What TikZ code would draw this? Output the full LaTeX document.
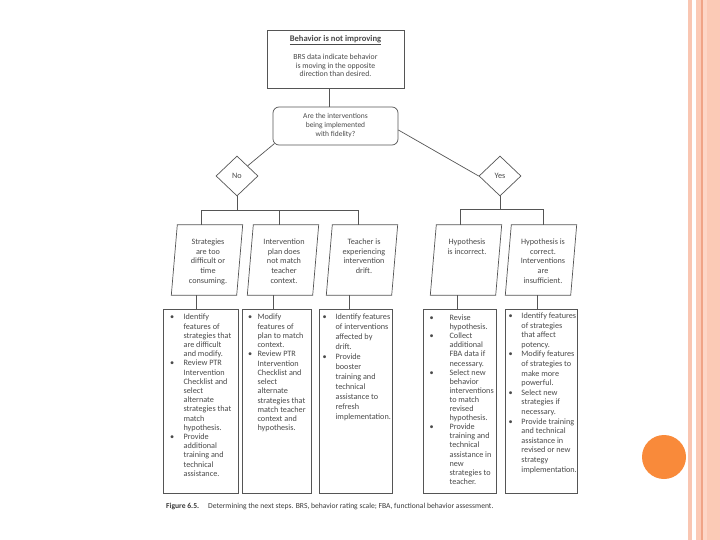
\documentclass[tikz,border=0pt]{standalone}
\usepackage{fontspec}
\setmainfont{Carlito}
\usetikzlibrary{shapes.geometric}
\definecolor{ink}{HTML}{555555}
\definecolor{txt}{HTML}{4A4A4A}
\definecolor{capc}{HTML}{3A3A3A}
\definecolor{stripeA}{HTML}{F9C6B2}
\definecolor{stripeB}{HTML}{FBCAB6}
\definecolor{stripeC}{HTML}{F0A486}
\definecolor{stripeD}{HTML}{FDD6C6}
\definecolor{dotc}{HTML}{F98A3A}
\newcommand\pgram[1]{\draw[ink,line width=0.7pt] ([xshift=3pt]#1.north west) -- ([xshift=3pt]#1.north east) -- ([xshift=-3pt]#1.south east) -- ([xshift=-3pt]#1.south west) -- cycle;}
\begin{document}
\begin{tikzpicture}[x=1pt,y=-1pt,
  plainbox/.style={draw=ink,line width=0.7pt,inner sep=0pt,text=txt},
  pgbox/.style={inner sep=0pt,minimum width=65pt,minimum height=70pt},
  rbox/.style={draw=ink,line width=0.7pt,inner sep=0pt,minimum height=184pt},
  ptext/.style={anchor=north,inner sep=0pt,text=txt,font=\fontsize{8.2}{9.6}\selectfont},
  btext/.style={anchor=north west,inner sep=0pt,text=txt},
  conn/.style={draw=ink,line width=0.7pt}
]
\useasboundingbox (0,0) rectangle (720,540);
\fill[white] (0,0) rectangle (720,540);
% right decoration
\fill[stripeA] (688,0) rectangle (692,540);
\fill[stripeB] (696,0) rectangle (720,540);
\fill[stripeC] (701,0) rectangle (702.8,540);
\fill[stripeD] (702.8,0) rectangle (707,540);
\fill[dotc] (664,457) circle[radius=22pt];

% top box
\node[draw=ink,line width=0.7pt,minimum width=137pt,minimum height=58pt] (top) at (335.5,59) {};
\node[anchor=north,inner sep=0pt,text=txt,font=\fontsize{7.8}{8.5}\selectfont] (toptext) at (335.5,35.6)
 {\begin{tabular}{@{}c@{}}{\fontsize{8.6}{8.5}\selectfont\underline{\textbf{Behavior is not improving}}}\\[9.4pt]
 BRS data indicate behavior\\
 is moving in the opposite\\
 direction than desired.\end{tabular}};

% decision
\node[plainbox,rounded corners=6pt,minimum width=125pt,minimum height=38pt,font=\fontsize{7.5}{9}\selectfont] (dec) at (335.5,126)
 {\begin{tabular}{@{}c@{}}Are the interventions\\ being implemented\\ with fidelity?\end{tabular}};

\node[plainbox,shape=diamond,minimum width=42pt,minimum height=40pt,font=\fontsize{8.2}{9}\selectfont] (no) at (237,176) {No};
\node[plainbox,shape=diamond,minimum width=42pt,minimum height=40pt,font=\fontsize{8.2}{9}\selectfont] (yes) at (500,176) {Yes};

% parallelograms
\node[pgbox] (p1) at (207,260) {};
\node[pgbox] (p2) at (283,260) {};
\node[pgbox] (p3) at (362,260) {};
\node[pgbox] (p4) at (466,260) {};
\node[pgbox] (p5) at (541,260) {};
\pgram{p1}\pgram{p2}\pgram{p3}\pgram{p4}\pgram{p5}
\node[ptext] (p1t) at (208,237.8) {\begin{tabular}{@{}c@{}}Strategies\\ are too\\ difficult or\\ time\\ consuming.\end{tabular}};
\node[ptext] (p2t) at (284,237.8) {\begin{tabular}{@{}c@{}}Intervention\\ plan does\\ not match\\ teacher\\ context.\end{tabular}};
\node[ptext] (p3t) at (364,237.8) {\begin{tabular}{@{}c@{}}Teacher is\\ experiencing\\ intervention\\ drift.\end{tabular}};
\node[ptext] (p4t) at (467,237.8) {\begin{tabular}{@{}c@{}}Hypothesis\\ is incorrect.\end{tabular}};
\node[ptext] (p5t) at (543,237.8) {\begin{tabular}{@{}c@{}}Hypothesis is\\ correct.\\ Interventions\\ are\\ insufficient.\end{tabular}};

% rectangles
\node[rbox,minimum width=75pt] (r1) at (200.5,401) {};
\node[rbox,minimum width=69pt] (r2) at (276.5,401) {};
\node[rbox,minimum width=73pt] (r3) at (355.5,401) {};
\node[rbox,minimum width=73pt] (r4) at (459.5,401) {};
\node[rbox,minimum width=72pt] (r5) at (541,401) {};

\node[btext,font=\fontsize{8.2}{9.2}\selectfont] (r1t) at (170,313.2)
 {\begin{tabular}{@{}l@{\hspace{9.3pt}}l@{}}
 \textbullet & Identify\\ & features of\\ & strategies that\\ & are difficult\\ & and modify.\\
 \textbullet & Review PTR\\ & Intervention\\ & Checklist and\\ & select\\ & alternate\\ & strategies that\\ & match\\ & hypothesis.\\
 \textbullet & Provide\\ & additional\\ & training and\\ & technical\\ & assistance.
 \end{tabular}};
\node[btext,font=\fontsize{8.2}{9.25}\selectfont] (r2t) at (248,313.2)
 {\begin{tabular}{@{}l@{\hspace{5.3pt}}l@{}}
 \textbullet & Modify\\ & features of\\ & plan to match\\ & context.\\
 \textbullet & Review PTR\\ & Intervention\\ & Checklist and\\ & select\\ & alternate\\ & strategies that\\ & match teacher\\ & context and\\ & hypothesis.
 \end{tabular}};
\node[btext,font=\fontsize{8.2}{10}\selectfont] (r3t) at (322.5,312.6)
 {\begin{tabular}{@{}l@{\hspace{8.8pt}}l@{}}
 \textbullet & Identify features\\ & of interventions\\ & affected by\\ & drift.\\
 \textbullet & Provide\\ & booster\\ & training and\\ & technical\\ & assistance to\\ & refresh\\ & implementation.
 \end{tabular}};
\node[btext,font=\fontsize{8.2}{9.1}\selectfont] (r4t) at (429.5,314)
 {\begin{tabular}{@{}l@{\hspace{15.8pt}}l@{}}
 \textbullet & Revise\\ & hypothesis.\\
 \textbullet & Collect\\ & additional\\ & FBA data if\\ & necessary.\\
 \textbullet & Select new\\ & behavior\\ & interventions\\ & to match\\ & revised\\ & hypothesis.\\
 \textbullet & Provide\\ & training and\\ & technical\\ & assistance in\\ & new\\ & strategies to\\ & teacher.
 \end{tabular}};
\node[btext,font=\fontsize{8.2}{9.6}\selectfont] (r5t) at (508.5,311.5)
 {\begin{tabular}{@{}l@{\hspace{8.7pt}}l@{}}
 \textbullet & Identify features\\ & of strategies\\ & that affect\\ & potency.\\
 \textbullet & Modify features\\ & of strategies to\\ & make more\\ & powerful.\\
 \textbullet & Select new\\ & strategies if\\ & necessary.\\
 \textbullet & Provide training\\ & and technical\\ & assistance in\\ & revised or new\\ & strategy\\ & implementation.
 \end{tabular}};

% caption
\node[anchor=west,inner sep=0pt,text=capc,font=\fontsize{7.6}{9}\selectfont] (cap) at (166,506)
 {\textbf{Figure 6.5.}\hspace{9pt}Determining the next steps. BRS, behavior rating scale; FBA, functional behavior assessment.};

% connectors
\draw[conn] ([xshift=-6pt]top.south) -- ([xshift=-6pt]dec.north);
\draw[conn] ([shift={(1.8,-1.8)}]dec.south west) -- (no.north east);
\draw[conn] ([yshift=-4pt]dec.east) -- (yes.west);
\draw[conn] (no.south) -- ++(0,14) coordinate (nbar);
\draw[conn] ([xshift=-6pt]p1.north) |- (nbar) -| ([xshift=-4pt]p3.north);
\draw[conn] ([xshift=-4pt]p2.north) -- ([xshift=-4pt]p2.north |- nbar);
\draw[conn] (yes.south) -- ++(0,13) coordinate (ybar);
\draw[conn] ([xshift=-6pt]p4.north) |- (ybar) -| ([xshift=2pt]p5.north);
\draw[conn] ([xshift=-4.5pt]r1.north) -- ([xshift=-4.5pt]r1.north |- p1.south);
\draw[conn] ([xshift=-3.5pt]r2.north) -- ([xshift=-3.5pt]r2.north |- p2.south);
\draw[conn] ([xshift=-6.5pt]r3.north) -- ([xshift=-6.5pt]r3.north |- p3.south);
\draw[conn] ([xshift=-2.5pt]r4.north) -- ([xshift=-2.5pt]r4.north |- p4.south);
\draw[conn] ([xshift=-4pt]r5.north) -- ([xshift=-4pt]r5.north |- p5.south);
\end{tikzpicture}
\end{document}
